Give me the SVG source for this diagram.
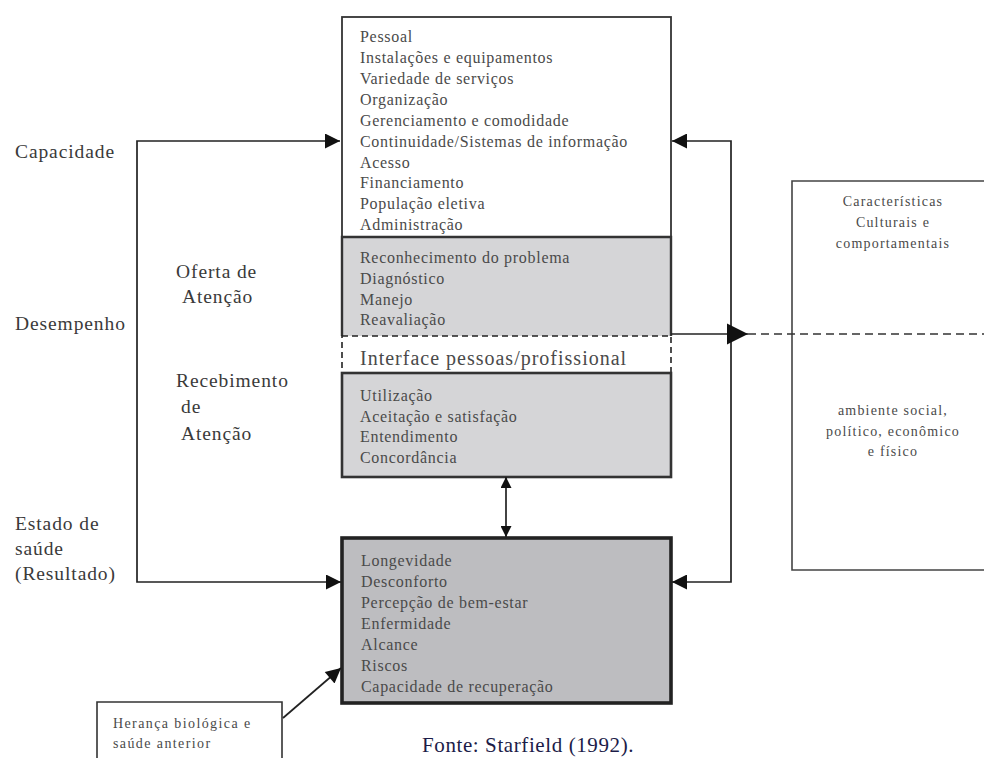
<svg xmlns="http://www.w3.org/2000/svg" width="984" height="758" viewBox="0 0 984 758">
<defs>
<marker id="ah" viewBox="0 0 10 10" refX="10" refY="5" markerWidth="16" markerHeight="15" markerUnits="userSpaceOnUse" orient="auto-start-reverse">
<path d="M0,0 L10,5 L0,10 z" fill="#111"/>
</marker>
<marker id="ahs" viewBox="0 0 10 10" refX="10" refY="5" markerWidth="21" markerHeight="24" markerUnits="userSpaceOnUse" orient="auto">
<path d="M0,0 L10,5 L0,10 z" fill="#111"/>
</marker>
<marker id="ahv" viewBox="0 0 10 10" refX="10" refY="5" markerWidth="14" markerHeight="11" markerUnits="userSpaceOnUse" orient="auto-start-reverse">
<path d="M0,0 L10,5 L0,10 z" fill="#111"/>
</marker>
</defs>
<style>
text{font-family:"Liberation Serif","DejaVu Serif",serif;fill:#4a4a4a}
.b{font-size:16px;letter-spacing:0.7px}
.l{font-size:19.5px;letter-spacing:0.9px;fill:#3a3a3a}
.s{font-size:14px;letter-spacing:1.2px}
.c{text-anchor:middle}
.ln{fill:none;stroke:#222;stroke-width:1.7}
</style>
<rect width="984" height="758" fill="#fff"/>
<g id="capacidade-box">
<rect x="342" y="17" width="329" height="220" fill="#fff" stroke="#333" stroke-width="1.8"/>
<text class="b" x="360" y="42">Pessoal</text>
<text class="b" x="360" y="63">Instalações e equipamentos</text>
<text class="b" x="360" y="84">Variedade de serviços</text>
<text class="b" x="360" y="105">Organização</text>
<text class="b" x="360" y="126">Gerenciamento e comodidade</text>
<text class="b" x="360" y="146.5">Continuidade/Sistemas de informação</text>
<text class="b" x="360" y="167.5">Acesso</text>
<text class="b" x="360" y="188">Financiamento</text>
<text class="b" x="360" y="209">População eletiva</text>
<text class="b" x="360" y="230">Administração</text>
</g>
<g id="oferta-box">
<rect x="342" y="237" width="329" height="99" fill="#d5d5d7"/>
<path d="M342,336 V237 H671 V336" fill="none" stroke="#333" stroke-width="2.4"/>
<text class="b" x="360" y="263">Reconhecimento do problema</text>
<text class="b" x="360" y="284">Diagnóstico</text>
<text class="b" x="360" y="304.5">Manejo</text>
<text class="b" x="360" y="325">Reavaliação</text>
</g>
<g id="interface-box">
<rect x="342" y="336" width="329" height="37" fill="#fff" stroke="#222" stroke-width="1.6" stroke-dasharray="6,4"/>
<text x="360" y="365" style="font-size:20px;letter-spacing:1px">Interface pessoas/profissional</text>
</g>
<g id="recebimento-box">
<rect x="342" y="373" width="329" height="104" fill="#d5d5d7" stroke="#333" stroke-width="2.6"/>
<text class="b" x="360" y="400.5">Utilização</text>
<text class="b" x="360" y="421.5">Aceitação e satisfação</text>
<text class="b" x="360" y="442">Entendimento</text>
<text class="b" x="360" y="463">Concordância</text>
</g>
<g id="resultado-box">
<rect x="342" y="538" width="329" height="165" fill="#bdbdc0" stroke="#222" stroke-width="3.6"/>
<text class="b" x="361" y="566">Longevidade</text>
<text class="b" x="361" y="587">Desconforto</text>
<text class="b" x="361" y="608">Percepção de bem-estar</text>
<text class="b" x="361" y="629">Enfermidade</text>
<text class="b" x="361" y="650">Alcance</text>
<text class="b" x="361" y="671">Riscos</text>
<text class="b" x="361" y="692">Capacidade de recuperação</text>
</g>
<g id="ambiente-box">
<path d="M984,181 H792 V570 H984" fill="#fff" stroke="#444" stroke-width="1.6"/>
<text class="s c" x="893" y="206">Características</text>
<text class="s c" x="893" y="227">Culturais e</text>
<text class="s c" x="893" y="248">comportamentais</text>
<text class="s c" x="893" y="415">ambiente social,</text>
<text class="s c" x="893" y="436">político, econômico</text>
<text class="s c" x="893" y="456">e físico</text>
</g>
<g id="heranca-box">
<path d="M97,760 V702 H282 V760" fill="#fff" stroke="#333" stroke-width="1.6"/>
<text class="s" x="113" y="728" style="letter-spacing:1.4px">Herança biológica e</text>
<text class="s" x="113" y="748" style="letter-spacing:1.4px">saúde anterior</text>
</g>
<g id="labels">
<text class="l" x="15" y="158">Capacidade</text>
<text class="l" x="15" y="330">Desempenho</text>
<text class="l" x="176" y="278">Oferta de</text>
<text class="l" x="182" y="303">Atenção</text>
<text class="l" x="176" y="387">Recebimento</text>
<text class="l" x="181" y="413">de</text>
<text class="l" x="181" y="440">Atenção</text>
<text class="l" x="15" y="530">Estado de</text>
<text class="l" x="15" y="555">saúde</text>
<text class="l" x="15" y="580">(Resultado)</text>
<text x="422" y="752" style="font-size:21px;fill:#1c1c48;letter-spacing:0.6px">Fonte: Starfield (1992).</text>
</g>
<g id="connectors">
<path class="ln" d="M340,141 H137 V582 H341" marker-start="url(#ah)" marker-end="url(#ah)"/>
<path class="ln" d="M672,141 H731 V582 H672" marker-start="url(#ah)" marker-end="url(#ah)"/>
<line class="ln" x1="506" y1="477" x2="506" y2="537" marker-start="url(#ahv)" marker-end="url(#ahv)"/>
<line class="ln" x1="671" y1="334" x2="748" y2="334" marker-end="url(#ahs)"/>
<line x1="748" y1="334" x2="984" y2="334" stroke="#333" stroke-width="1.6" stroke-dasharray="8,5"/>
<line class="ln" x1="283" y1="718" x2="341" y2="668" marker-end="url(#ah)"/>
</g>
</svg>
